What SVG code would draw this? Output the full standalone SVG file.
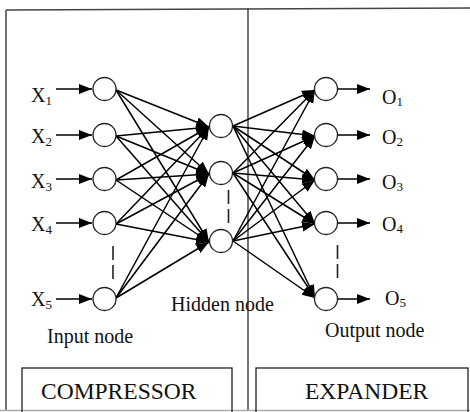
<svg xmlns="http://www.w3.org/2000/svg" width="470" height="412" viewBox="0 0 470 412">
<style>
.frame{fill:none;stroke:#444;stroke-width:1.5}
.box{fill:none;stroke:#222;stroke-width:1.3}
.node{fill:#fff;stroke:#222;stroke-width:1.3}
.c{stroke:#000;stroke-width:1.5;fill:none}
.dash{stroke:#222;stroke-width:1.6;stroke-dasharray:14,5}
text{font-family:"Liberation Serif","Times New Roman",serif;fill:#111}
.lbl{font-size:20px}
.sub{font-size:13px}
.big{font-size:23.5px}
</style>
<defs>
<marker id="ah" markerUnits="userSpaceOnUse" markerWidth="14" markerHeight="12" refX="13" refY="5" orient="auto">
<path d="M0,0 L13,5 L0,10 Z" fill="#000"/>
</marker>
</defs>
<g id="frame">
<line class="frame" x1="6" y1="10" x2="470" y2="8"/>
<line class="frame" x1="6" y1="10" x2="6" y2="410"/>
<line class="frame" x1="248" y1="8" x2="248" y2="410"/>
<line x1="0" y1="410.5" x2="470" y2="410.5" stroke="#aaa" stroke-width="1.5"/>
</g>
<g id="connectors">
<g class="c" marker-end="url(#ah)">
<line x1="56" y1="89" x2="92" y2="89"/>
<line x1="56" y1="135" x2="92" y2="135"/>
<line x1="56" y1="179" x2="92" y2="179"/>
<line x1="56" y1="223" x2="92" y2="223"/>
<line x1="56" y1="299" x2="92" y2="299"/>
<line x1="116" y1="90" x2="209" y2="127"/>
<line x1="116" y1="90" x2="209" y2="174"/>
<line x1="116" y1="90" x2="209" y2="242"/>
<line x1="116" y1="136" x2="209" y2="127"/>
<line x1="116" y1="136" x2="209" y2="174"/>
<line x1="116" y1="136" x2="209" y2="242"/>
<line x1="116" y1="180" x2="209" y2="127"/>
<line x1="116" y1="180" x2="209" y2="174"/>
<line x1="116" y1="180" x2="209" y2="242"/>
<line x1="116" y1="224" x2="209" y2="127"/>
<line x1="116" y1="224" x2="209" y2="174"/>
<line x1="116" y1="224" x2="209" y2="242"/>
<line x1="116" y1="298" x2="209" y2="127"/>
<line x1="116" y1="298" x2="209" y2="174"/>
<line x1="116" y1="298" x2="209" y2="242"/>
<line x1="233" y1="126" x2="315" y2="90"/>
<line x1="233" y1="126" x2="315" y2="136"/>
<line x1="233" y1="126" x2="315" y2="180"/>
<line x1="233" y1="126" x2="315" y2="224"/>
<line x1="233" y1="126" x2="315" y2="298"/>
<line x1="233" y1="173" x2="315" y2="90"/>
<line x1="233" y1="173" x2="315" y2="136"/>
<line x1="233" y1="173" x2="315" y2="180"/>
<line x1="233" y1="173" x2="315" y2="224"/>
<line x1="233" y1="173" x2="315" y2="298"/>
<line x1="233" y1="241" x2="315" y2="90"/>
<line x1="233" y1="241" x2="315" y2="136"/>
<line x1="233" y1="241" x2="315" y2="180"/>
<line x1="233" y1="241" x2="315" y2="224"/>
<line x1="233" y1="241" x2="315" y2="298"/>
<line x1="337" y1="89" x2="370" y2="89"/>
<line x1="337" y1="135" x2="370" y2="135"/>
<line x1="337" y1="179" x2="370" y2="179"/>
<line x1="337" y1="223" x2="370" y2="223"/>
<line x1="337" y1="299" x2="370" y2="299"/>
</g>
<line class="dash" x1="113" y1="246" x2="113" y2="281"/>
<line class="dash" x1="228.5" y1="190" x2="228.5" y2="224" stroke-dasharray="13,5"/>
<line class="dash" x1="337.5" y1="245" x2="337.5" y2="281"/>
</g>
<g id="input-nodes">
<g id="in1"><circle class="node" cx="104.5" cy="89" r="11.5"/><text class="lbl" x="31" y="102">X<tspan class="sub" dy="3">1</tspan></text></g>
<g id="in2"><circle class="node" cx="104.5" cy="135" r="11.5"/><text class="lbl" x="31" y="143">X<tspan class="sub" dy="3">2</tspan></text></g>
<g id="in3"><circle class="node" cx="104.5" cy="179" r="11.5"/><text class="lbl" x="31" y="188">X<tspan class="sub" dy="3">3</tspan></text></g>
<g id="in4"><circle class="node" cx="104.5" cy="223" r="11.5"/><text class="lbl" x="31" y="231">X<tspan class="sub" dy="3">4</tspan></text></g>
<g id="in5"><circle class="node" cx="104.5" cy="299" r="11.5"/><text class="lbl" x="31" y="306">X<tspan class="sub" dy="3">5</tspan></text></g>
</g>
<g id="hidden-nodes">
<g id="h1"><circle class="node" cx="221" cy="126" r="11.5"/></g>
<g id="h2"><circle class="node" cx="221" cy="173" r="11.5"/></g>
<g id="h3"><circle class="node" cx="221" cy="241" r="11.5"/></g>
</g>
<g id="output-nodes">
<g id="o1"><circle class="node" cx="326" cy="89" r="11.5"/><text class="lbl" x="382" y="104">O<tspan class="sub" dy="2">1</tspan></text></g>
<g id="o2"><circle class="node" cx="326" cy="135" r="11.5"/><text class="lbl" x="382" y="144">O<tspan class="sub" dy="2">2</tspan></text></g>
<g id="o3"><circle class="node" cx="326" cy="179" r="11.5"/><text class="lbl" x="382" y="189">O<tspan class="sub" dy="2">3</tspan></text></g>
<g id="o4"><circle class="node" cx="326" cy="223" r="11.5"/><text class="lbl" x="382" y="231">O<tspan class="sub" dy="2">4</tspan></text></g>
<g id="o5"><circle class="node" cx="326" cy="299" r="11.5"/><text class="lbl" x="385" y="305">O<tspan class="sub" dy="2">5</tspan></text></g>
</g>
<g id="labels">
<text class="lbl" x="47" y="343">Input node</text>
<text class="lbl" x="171" y="311">Hidden node</text>
<text class="lbl" x="325" y="337">Output node</text>
</g>
<g id="compressor"><rect class="box" x="22" y="368" width="210" height="50"/><text class="big" x="41" y="399">COMPRESSOR</text></g>
<g id="expander"><rect class="box" x="256" y="368" width="212" height="50"/><text class="big" x="305" y="399">EXPANDER</text></g>
</svg>
